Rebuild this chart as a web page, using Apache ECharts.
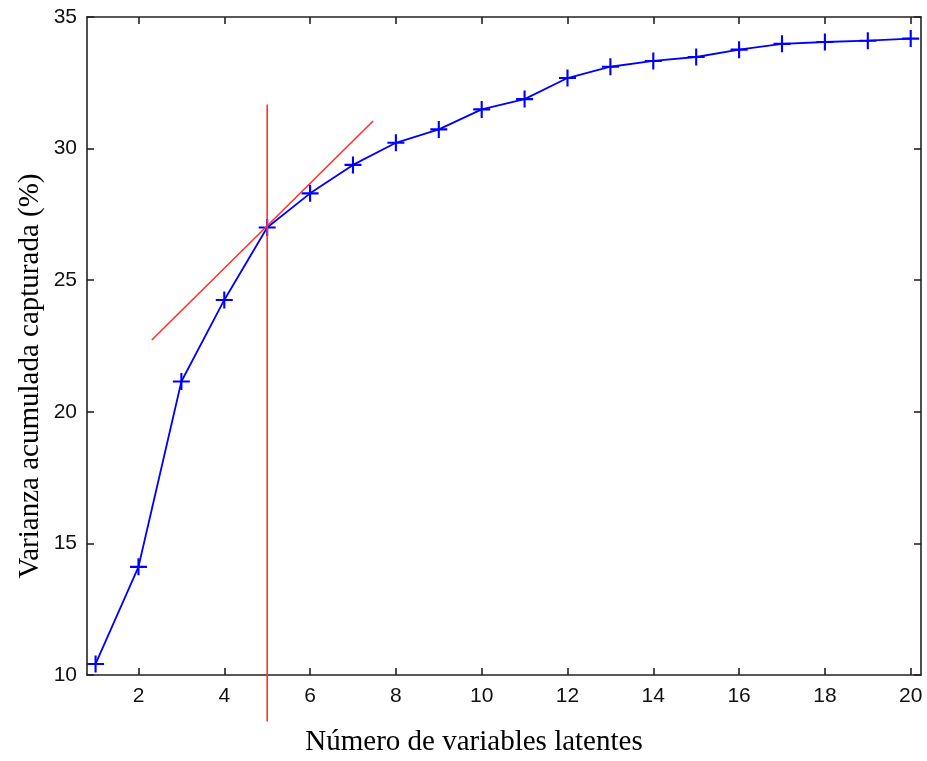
<!DOCTYPE html>
<html>
<head>
<meta charset="utf-8">
<script src="https://cdn.jsdelivr.net/npm/echarts@6/dist/echarts.min.js"></script>
<style>
  html, body { margin: 0; padding: 0; background: #fff; }
  #chart { width: 927px; height: 761px; }
</style>
</head>
<body>
<div id="chart"></div>
<script>
// Number of latent variables and cumulative captured variance (%)
const nLatent = [1, 2, 3, 4, 5, 6, 7, 8, 9, 10, 11, 12, 13, 14, 15, 16, 17, 18, 19, 20];
const cumVariance = [10.42, 14.11, 21.15, 24.25, 27.0, 28.30, 29.38, 30.22, 30.73, 31.49,
                     31.88, 32.68, 33.11, 33.33, 33.48, 33.76, 33.98, 34.05, 34.10, 34.18];
const xTicks = [2, 4, 6, 8, 10, 12, 14, 16, 18, 20];
// Selected number of components (vertical marker) and tangent at that point
const cutoffLine = [[5, 31.68], [5, 8.23]];
const tangentLine = [[2.31, 22.73], [7.47, 31.05]];

const AXIS_COLOR = '#222';
const plus = 'path://M-1,-8 L1,-8 L1,-1 L8,-1 L8,1 L1,1 L1,8 L-1,8 L-1,1 L-8,1 L-8,-1 L-1,-1 Z';

const chart = echarts.init(document.getElementById('chart'), null, { renderer: 'canvas' });

const baseX = {
  type: 'value', min: 0.8, max: 20.24,
  axisLine: { show: true, onZero: false, lineStyle: { color: AXIS_COLOR, width: 1.6 } },
  axisTick: { show: true, inside: true, length: 7, customValues: xTicks, lineStyle: { color: AXIS_COLOR, width: 1.6 } },
  splitLine: { show: false }
};
const baseY = {
  type: 'value', min: 10, max: 35, interval: 5,
  axisLine: { show: true, onZero: false, lineStyle: { color: AXIS_COLOR, width: 1.6 } },
  axisTick: { show: true, inside: true, length: 7, lineStyle: { color: AXIS_COLOR, width: 1.6 } },
  splitLine: { show: false }
};

chart.setOption({
  animation: false,
  backgroundColor: '#fff',
  grid: { left: 87, right: 6, top: 17, bottom: 86 },
  xAxis: [
    Object.assign({}, baseX, {
      position: 'bottom',
      axisLabel: { show: true, customValues: xTicks, margin: 11, color: '#111',
                   fontFamily: 'Liberation Sans', fontSize: 21 }
    }),
    Object.assign({}, baseX, { position: 'top', axisLabel: { show: false } })
  ],
  yAxis: [
    Object.assign({}, baseY, {
      position: 'left',
      axisLabel: { show: true, margin: 10, color: '#111',
                   fontFamily: 'Liberation Sans', fontSize: 21 }
    }),
    Object.assign({}, baseY, { position: 'right', axisLabel: { show: false } })
  ],
  graphic: [
    {
      type: 'text', x: 474, y: 742,
      style: { text: 'Número de variables latentes', fill: '#000',
               font: '29px "Liberation Serif"', align: 'center', verticalAlign: 'middle' }
    },
    {
      type: 'text', x: 30, y: 376, rotation: Math.PI / 2,
      style: { text: 'Varianza acumulada capturada (%)', fill: '#000',
               font: '29px "Liberation Serif"', align: 'center', verticalAlign: 'middle' }
    }
  ],
  series: [
    {
      type: 'line',
      data: nLatent.map((n, i) => [n, cumVariance[i]]),
      symbol: plus, symbolSize: 17,
      lineStyle: { color: '#0000ff', width: 1.8 },
      itemStyle: { color: '#0000ff' },
      z: 3
    },
    {
      type: 'line', data: tangentLine, symbol: 'none', clip: false,
      lineStyle: { color: '#ff3030', width: 1.6 }, z: 4
    },
    {
      type: 'line', data: cutoffLine, symbol: 'none', clip: false,
      lineStyle: { color: '#ff3030', width: 1.6 }, z: 4
    }
  ]
});
</script>
</body>
</html>
